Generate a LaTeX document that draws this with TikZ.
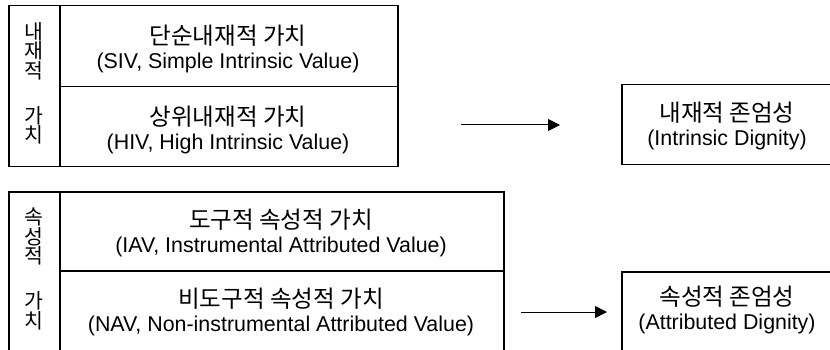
\documentclass[tikz,border=0pt]{standalone}
\usepackage{fontspec}
\setmainfont{Liberation Sans}
\newfontfamily\kr[Scale=1.1]{Noto Sans CJK KR}
\newfontfamily\krside{Noto Sans CJK KR}
\usetikzlibrary{arrows.meta}
\tikzset{
  cell/.style={draw, line width=1.5pt, inner sep=0pt, anchor=north west},
  lbl/.style={align=center, inner sep=0pt, font=\fontsize{21.4}{24}\selectfont},
  side/.style={align=center, inner sep=0pt, font=\krside\fontsize{20.5}{15.6}\selectfont},
  conn/.style={line width=1pt, -{Triangle[length=12pt,width=12pt]}}
}
\begin{document}
\begin{tikzpicture}[x=1pt,y=-1pt]
\useasboundingbox (0,0) rectangle (830,350);
\clip (0,0) rectangle (830,350);
% top group
\node[cell, minimum width=51pt, minimum height=161pt] (ltop) at (8,5) {};
\node[cell, minimum width=338pt, minimum height=81pt] (siv) at (59,5) {};
\node[cell, minimum width=338pt, minimum height=80pt] (hiv) at (59,86) {};
\node[side] (lt1) at (33.5,51) {내\\재\\적};
\node[side] (lt2) at (33.5,125.5) {가\\치};
\node[lbl] (sivt) at (228,48.5) {{\kr 단순내재적 가치}\\(SIV, Simple Intrinsic Value)};
\node[lbl] (hivt) at (228,130) {{\kr 상위내재적 가치}\\(HIV, High Intrinsic Value)};
% bottom group
\node[cell, minimum width=51pt, minimum height=161pt] (lbot) at (8,191) {};
\node[cell, minimum width=444pt, minimum height=79pt] (iav) at (59,191) {};
\node[cell, minimum width=444pt, minimum height=82pt] (nav) at (59,270) {};
\node[side] (lb1) at (33.5,236.5) {속\\성\\적};
\node[side] (lb2) at (33.5,311) {가\\치};
\node[lbl] (iavt) at (281,233) {{\kr 도구적 속성적 가치}\\(IAV, Instrumental Attributed Value)};
\node[lbl] (navt) at (281,312) {{\kr 비도구적 속성적 가치}\\(NAV, Non-instrumental Attributed Value)};
% right boxes
\node[cell, minimum width=212pt, minimum height=80pt] (idig) at (621,84) {};
\node[lbl] (idigt) at (727,126) {{\kr 내재적 존엄성}\\(Intrinsic Dignity)};
\node[cell, minimum width=212pt, minimum height=82pt] (adig) at (621,271) {};
\node[lbl] (adigt) at (727,310) {{\kr 속성적 존엄성}\\(Attributed Dignity)};
% arrows
\coordinate (a1s) at (461,125);
\coordinate (a1e) at (560,125);
\coordinate (a2s) at (521,312);
\coordinate (a2e) at (607,312);
\draw[conn] (a1s) -- (a1e);
\draw[conn] (a2s) -- (a2e);
\end{tikzpicture}
\end{document}
